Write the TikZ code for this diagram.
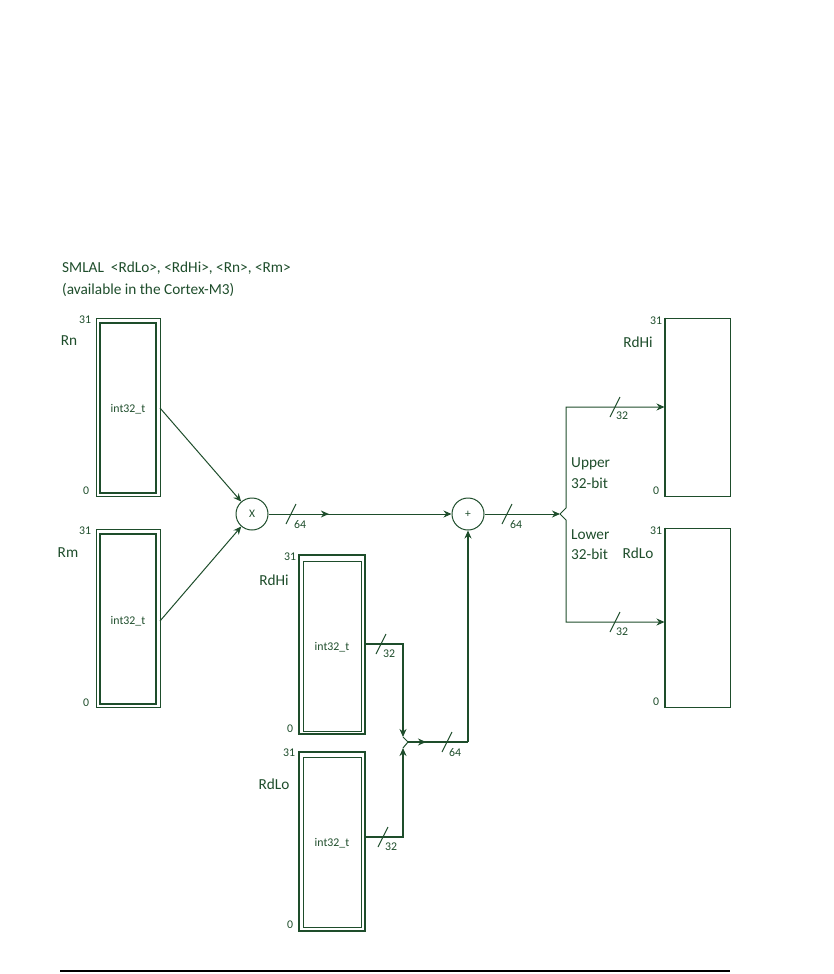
\documentclass[tikz,border=0pt]{standalone}
\usepackage{fontspec}
\setmainfont{Carlito}
\usetikzlibrary{arrows.meta,decorations.markings}
\definecolor{dg}{HTML}{1E4D2B}
\tikzset{
  lbl/.style={font=\fontsize{15.3}{17}\selectfont, text=dg, inner sep=0},
  sml/.style={font=\fontsize{11.8}{12}\selectfont, text=dg, inner sep=0},
  wire/.style={draw=dg, line width=1pt},
  tip/.style={-{Stealth[length=8pt,width=7pt]}},
  midarr/.style={postaction={decorate}, decoration={markings, mark=at position #1 with {\arrow{Stealth[length=8pt,width=7pt]}}}},
  busmark/.pic={\draw[dg, line width=1pt] (-5,10)--(5,-10);},
  opnode/.style={circle, draw=dg, line width=1pt, minimum size=32pt, inner sep=0, font=\fontsize{11.5}{12}\selectfont, text=dg},
  outbox/.style={draw=dg, line width=1pt, inner sep=0},
}
\begin{document}
\begin{tikzpicture}[x=1pt,y=-1pt]
\useasboundingbox (0,0) rectangle (834,974);
% title
\node[lbl, anchor=west] (t1) at (62,268) {SMLAL\ \ <RdLo>, <RdHi>, <Rn>, <Rm>};
\node[lbl, anchor=west] (t2) at (62,290) {(available in the Cortex-M3)};

% Rn box
\draw[dg, line width=1pt] (96,318) rectangle (160,496);
\draw[dg, line width=2pt] (100,323) rectangle (156,493);
\node[sml] (rnt) at (128,409) {int32\_t};
\coordinate (rnout) at (160,408);
\node[sml] (rn31) at (85,320) {31};
\node[sml] (rn0) at (86,491) {0};
\node[lbl] (rnl) at (69,341) {Rn};

% Rm box
\draw[dg, line width=1pt] (96,529) rectangle (160,707);
\draw[dg, line width=2pt] (100,534) rectangle (156,704);
\node[sml] (rmt) at (128,621) {int32\_t};
\coordinate (rmout) at (160,621);
\node[sml] (rm31) at (85,531) {31};
\node[sml] (rm0) at (86,703) {0};
\node[lbl] (rml) at (68,553) {Rm};

% operators
\node[opnode] (mul) at (252,514) {X};
\node[opnode] (add) at (468,514) {+};

\draw[wire, tip] (rnout) -- (mul);
\draw[wire, tip] (rmout) -- (mul);
\draw[wire, tip, midarr=0.33] (mul) -- (add);
\pic at (291,514) {busmark};
\node[sml, anchor=north west] (b1) at (294,520) {64};

% middle RdHi
\draw[dg, line width=1.5pt] (299,555) rectangle (365,734);
\draw[dg, line width=1pt] (303,561) rectangle (361,731);
\node[sml] (mht) at (332,647) {int32\_t};
\coordinate (mhout) at (365,644);
\node[sml] (mh31) at (290,557) {31};
\node[sml] (mh0) at (290,729) {0};
\node[lbl] (mhl) at (274,580) {RdHi};

% middle RdLo
\draw[dg, line width=1.5pt] (299,752) rectangle (365,931);
\draw[dg, line width=1pt] (303,757) rectangle (361,927);
\node[sml] (mlt) at (332,843) {int32\_t};
\coordinate (mlout) at (365,837);
\node[sml] (ml31) at (289,753) {31};
\node[sml] (ml0) at (290,925) {0};
\node[lbl] (mll) at (274,784) {RdLo};

% middle wires
\coordinate (mhc) at (403,644);
\coordinate (mhtip) at (403,737);
\coordinate (mlc) at (403,837);
\coordinate (mltip) at (403,748);
\coordinate (mj) at (408,742);
\coordinate (mk) at (468,742);
\draw[dg, line width=2pt, tip] (mhout) -- (mhc) -- (mhtip);
\draw[dg, line width=2pt, tip] (mlout) -- (mlc) -- (mltip);
\draw[wire] (mhtip) -- (mj) -- (mltip);
\draw[dg, line width=1.5pt, midarr=0.3] (mj) -- (mk);
\draw[dg, line width=1.5pt, tip] (mk) -- (add);
\pic at (381,644) {busmark};
\node[sml, anchor=north west] (b2) at (383,650) {32};
\pic at (383,837) {busmark};
\node[sml, anchor=north west] (b3) at (385,843) {32};
\pic at (447,742) {busmark};
\node[sml, anchor=north west] (b4) at (449,748) {64};

% right boxes
\node[outbox, minimum width=65pt, minimum height=178pt] (rh) at (697.5,407) {};
\draw[dg, line width=2pt] (rh.north west) -- (rh.south west);
\node[sml] (rh31) at (656,321) {31};
\node[sml] (rh0) at (656,491) {0};
\node[lbl] (rhl) at (638,342) {RdHi};

\node[outbox, minimum width=65pt, minimum height=179pt] (rl) at (697.5,617.5) {};
\draw[dg, line width=2pt] (rl.north west) -- (rl.south west);
\node[sml] (rl31) at (656,531) {31};
\node[sml] (rl0) at (656,702) {0};
\node[lbl] (rll) at (638,553) {RdLo};

% output wires
\coordinate (ftip) at (560,514);
\coordinate (fu) at (566,508);
\coordinate (fd) at (566,520);
\coordinate (fu2) at (566,407);
\coordinate (fd2) at (566,622);
\draw[wire, tip] (add) -- (ftip);
\pic at (507,514) {busmark};
\node[sml, anchor=north west] (b5) at (510,520) {64};
\draw[wire, tip] (ftip) -- (fu) -- (fu2) -- (rh.west);
\draw[wire, tip] (ftip) -- (fd) -- (fd2) -- (rl.west |- fd2);
\pic at (615,407) {busmark};
\node[sml, anchor=north west] (b6) at (616,412) {32};
\pic at (615,622) {busmark};
\node[sml, anchor=north west] (b7) at (616,628) {32};

\node[lbl, anchor=west] (up1) at (571,464) {Upper};
\node[lbl, anchor=west] (up2) at (571,483) {32-bit};
\node[lbl, anchor=west] (lo1) at (571,535) {Lower};
\node[lbl, anchor=west] (lo2) at (571,554) {32-bit};

% bottom rule
\coordinate (r1) at (60,971);
\coordinate (r2) at (730,971);
\draw[black, line width=2.5pt] (r1) -- (r2);
\end{tikzpicture}
\end{document}
